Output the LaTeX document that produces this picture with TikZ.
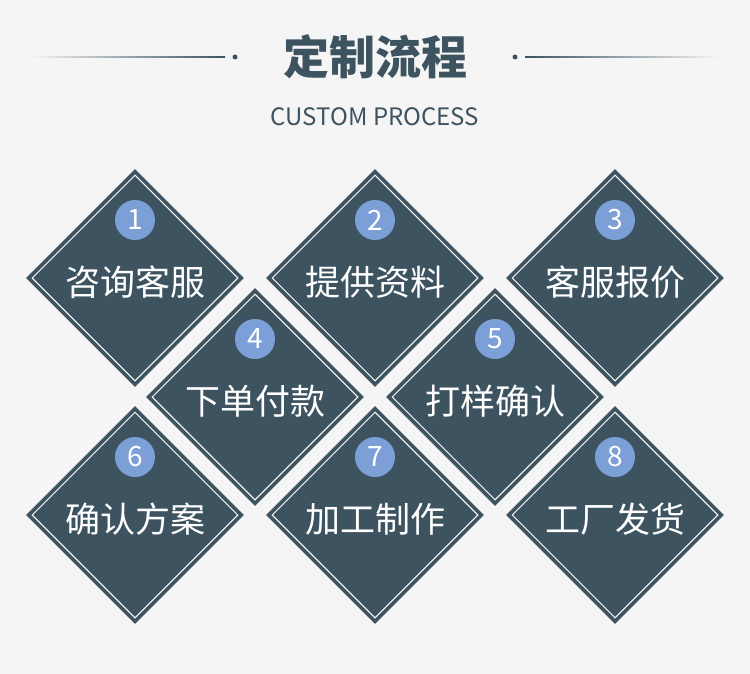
\documentclass[tikz,border=0pt]{standalone}
\usepackage{fontspec}
\setmainfont{Noto Sans CJK SC}
\usetikzlibrary{shapes.geometric}
\definecolor{dk}{HTML}{3D5360}
\definecolor{bl}{HTML}{7B9FD6}
\definecolor{bg}{HTML}{F5F5F5}
\tikzset{x=1pt,y=-1pt,
 dia/.style={diamond,fill=dk,inner sep=0,minimum width=218pt,minimum height=218pt},
 diain/.style={diamond,draw=white,line width=1pt,inner sep=0,minimum width=206pt,minimum height=206pt},
 num/.style={circle,fill=bl,text=white,minimum size=40pt,inner sep=0,font=\fontsize{28}{28}\selectfont},
 lab/.style={text=white,font=\fontsize{35}{35}\selectfont}}
\begin{document}
\begin{tikzpicture}
\fill[bg] (0,0) rectangle (750,674);
\useasboundingbox (0,0) rectangle (750,674);
\shade[left color=bg,right color=dk] (30,56.5) rectangle (225,57.5);
\shade[left color=dk,right color=bg] (525,56.5) rectangle (720,57.5);
\fill[dk] (235,57) circle (2.5);
\fill[dk] (515,57) circle (2.5);
\node[text=dk,font=\fontsize{46}{46}\selectfont\bfseries] (title) at (375,57) {定制流程};
\node[text=dk,font=\fontsize{24}{24}\selectfont] (sub) at (375,117) {CUSTOM PROCESS};
\foreach \n/\x/\y/\t in {1/135/278/咨询客服,2/375/278/提供资料,3/615/278/客服报价,4/255/397/下单付款,5/495/397/打样确认,6/135/515/确认方案,7/375/515/加工制作,8/615/515/工厂发货}{
 \node[dia] (d\n) at (\x,\y) {};
 \node[diain] (i\n) at (\x,\y) {};
 \node[num] (n\n) at (\x,\y-58) {\n};
 \node[lab] (t\n) at (\x,\y+4) {\t};
}
\end{tikzpicture}
\end{document}
